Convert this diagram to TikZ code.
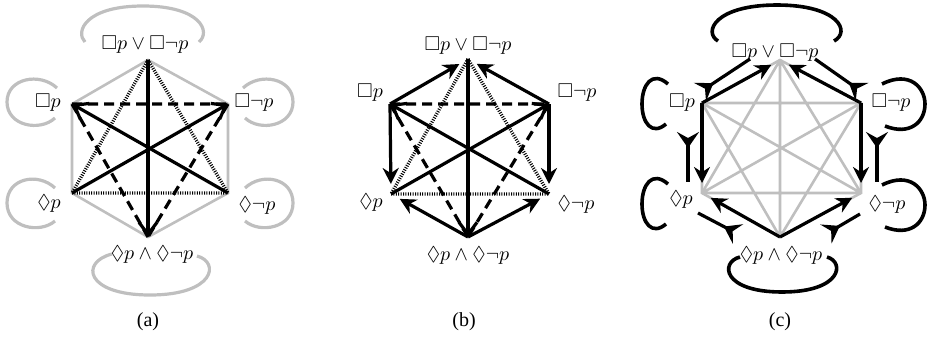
\documentclass[tikz,border=0pt]{standalone}
\usepackage{amssymb}
\usepackage{fontspec}
\setmainfont{Liberation Serif}
\usetikzlibrary{arrows.meta}

\begin{document}
\begin{tikzpicture}[x=0.5pt, y=-0.5pt, every node/.style={font=\normalsize, inner sep=1pt},
  soft/.style={gray!50, line width=1.3pt},
  contra/.style={line width=1.6pt, -{Straight Barb[length=6pt,width=9pt]}},
  contrary/.style={line width=1.6pt, dash pattern=on 5pt off 3pt},
  subcon/.style={line width=1.7pt, dash pattern=on 0.5pt off 0.7pt},
  subalt/.style={line width=1.6pt, -{Stealth[length=8pt,width=8pt]}, shorten >=5pt},
  fletch/.style={line width=1.6pt, {Stealth[reversed,length=8pt,width=11pt,inset=3pt]}-},
  halo/.style={gray!50, line width=1.6pt},
  ring/.style={line width=1.8pt}]
  \useasboundingbox (0,0) rectangle (927,338);

  % (a)
  \coordinate (aT) at (148,60); \coordinate (aB) at (148,237);
  \coordinate (aUL) at (72,104); \coordinate (aUR) at (228,104);
  \coordinate (aLL) at (72,193); \coordinate (aLR) at (228,193);
  \draw[soft] (aT) -- (aUR) -- (aLR) -- (aB) -- (aLL) -- (aUL) -- cycle;
  \draw[contrary] (aUL) -- (aUR) (aUL) -- (aB) (aUR) -- (aB);
  \draw[subcon] (aLL) -- (aLR) (aT) -- (aLL) (aT) -- (aLR);
  \draw[contra] (aLR) -- (aUL); \draw[contra] (aLL) -- (aUR); \draw[contra] (aT) -- (aB);
  \node (atop) at (145,45) {$\Box p\vee\Box\neg p$};
  \node (abot) at (152,255) {$\Diamond p\wedge\Diamond\neg p$};
  \node (aul) at (48,103) {$\Box p$}; \node (aur) at (254,103) {$\Box\neg p$};
  \node (all) at (49,204) {$\Diamond p$}; \node (alr) at (257,206) {$\Diamond\neg p$};
  \draw[halo] (85,42) .. controls (75,32) and (85,6) .. (143,6) .. controls (201,6) and (211,32) .. (199,42);
  \draw[halo] (57,88) .. controls (40,72) and (7,78) .. (7,102) .. controls (7,126) and (40,132) .. (55,118);
  \draw[halo] (243,88) .. controls (260,72) and (293,78) .. (293,102) .. controls (293,126) and (260,132) .. (245,118);
  \draw[halo] (55,188) .. controls (38,172) and (7,178) .. (7,203) .. controls (7,228) and (40,234) .. (55,221);
  \draw[halo] (245,188) .. controls (262,172) and (293,178) .. (293,203) .. controls (293,228) and (260,234) .. (245,221);
  \draw[halo] (112,254) .. controls (80,262) and (85,295) .. (150,295) .. controls (215,295) and (220,262) .. (197,256);
  \node (capa) at (148,322) {(a)};

  % (b)
  \coordinate (bT) at (468,59); \coordinate (bB) at (468,237);
  \coordinate (bUL) at (390,104); \coordinate (bUR) at (549,104);
  \coordinate (bLL) at (391,194); \coordinate (bLR) at (549,194);
  \draw[contrary] (bUL) -- (bUR) (bUL) -- (bB) (bUR) -- (bB);
  \draw[subcon] (bLL) -- (bLR) (bT) -- (bLL) (bT) -- (bLR);
  \draw[contra] (bLR) -- (bUL); \draw[contra] (bLL) -- (bUR); \draw[contra] (bT) -- (bB);
  \draw[subalt] (bUL) -- (bT); \draw[subalt] (bUR) -- (bT);
  \draw[subalt] (bUL) -- (bLL); \draw[subalt] (bUR) -- (bLR);
  \draw[subalt] (bB) -- (bLL); \draw[subalt] (bB) -- (bLR);
  \node (btop) at (468,46) {$\Box p\vee\Box\neg p$};
  \node (bbot) at (468,256) {$\Diamond p\wedge\Diamond\neg p$};
  \node (bul) at (370,93) {$\Box p$}; \node (bur) at (577,93) {$\Box\neg p$};
  \node (bll) at (371,203) {$\Diamond p$}; \node (blr) at (576,205) {$\Diamond\neg p$};
  \node (capb) at (464,322) {(b)};

  % (c)
  \coordinate (cT) at (780,60); \coordinate (cB) at (780,237);
  \coordinate (cUL) at (702,103); \coordinate (cUR) at (861,103);
  \coordinate (cLL) at (702,193); \coordinate (cLR) at (861,193);
  \draw[soft] (cT) -- (cUR) -- (cLR) -- (cB) -- (cLL) -- (cUL) -- cycle;
  \draw[soft] (cT) -- (cLL) (cT) -- (cLR) (cT) -- (cB) (cUL) -- (cUR) (cUL) -- (cLR) (cUL) -- (cB)
    (cUR) -- (cLL) (cUR) -- (cB) (cLL) -- (cLR);
  \draw[subalt] (cUL) -- (cT); \draw[subalt] (cUR) -- (cT);
  \draw[subalt] (cUL) -- (cLL); \draw[subalt] (cUR) -- (cLR);
  \draw[subalt] (cB) -- (cLL); \draw[subalt] (cB) -- (cLR);
  \coordinate (f1) at (700,92); \coordinate (g1) at (750,59);
  \coordinate (f2) at (862,92); \coordinate (g2) at (815,59);
  \coordinate (f3) at (688,132); \coordinate (g3) at (688,182);
  \coordinate (f4) at (877,132); \coordinate (g4) at (877,182);
  \coordinate (f5) at (738,234); \coordinate (g5) at (698,213);
  \coordinate (f6) at (826,234); \coordinate (g6) at (860,214);
  \draw[fletch] (f1) -- (g1); \draw[fletch] (f2) -- (g2);
  \draw[fletch] (f3) -- (g3); \draw[fletch] (f4) -- (g4);
  \draw[fletch] (f5) -- (g5); \draw[fletch] (f6) -- (g6);
  \node (ctop) at (775,53) {$\Box p\vee\Box\neg p$};
  \node (cbot) at (781,256) {$\Diamond p\wedge\Diamond\neg p$};
  \node (cul) at (682,103) {$\Box p$}; \node (cur) at (891,103) {$\Box\neg p$};
  \node (cll) at (681,200) {$\Diamond p$}; \node (clr) at (887,205) {$\Diamond\neg p$};
  \draw[ring] (718,41) .. controls (703,32) and (715,5) .. (777,5) .. controls (839,5) and (851,32) .. (834,41);
  \draw[ring] (668,84) .. controls (652,70) and (642,85) .. (642,104) .. controls (642,123) and (652,136) .. (666,124);
  \draw[ring] (882,84) .. controls (910,70) and (925,88) .. (925,104) .. controls (925,122) and (910,136) .. (885,126);
  \draw[ring] (668,184) .. controls (652,170) and (642,185) .. (642,204) .. controls (642,223) and (652,236) .. (666,224);
  \draw[ring] (882,185) .. controls (910,171) and (925,189) .. (925,205) .. controls (925,223) and (910,237) .. (885,227);
  \draw[ring] (740,257) .. controls (720,262) and (722,292) .. (782,292) .. controls (842,292) and (845,262) .. (827,257);
  \node (capc) at (780,322) {(c)};
\end{tikzpicture}
\end{document}
